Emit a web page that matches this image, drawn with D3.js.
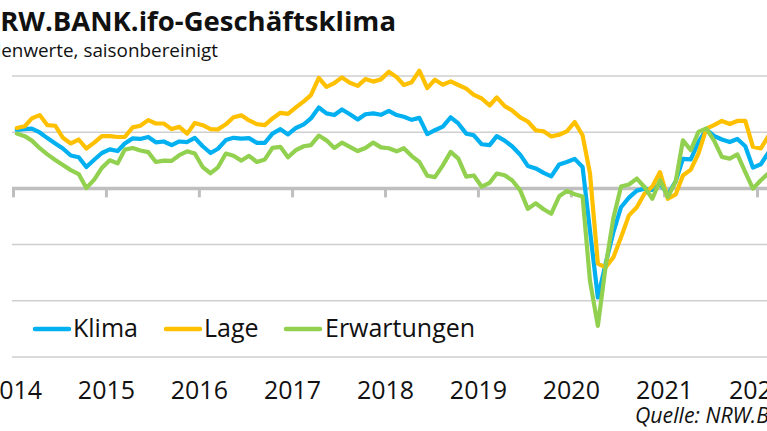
<!DOCTYPE html>
<html><head><meta charset="utf-8">
<script src="https://cdn.jsdelivr.net/npm/d3@7"></script>
<style>
html,body{margin:0;padding:0;background:#fff;overflow:hidden}
svg{display:block;font-family:"Open Sans","Noto Sans",sans-serif}
</style></head><body>
<svg id="chart" width="767" height="431"></svg>
<script>
const title = "NRW.BANK.ifo-Geschäftsklima";
const subtitle = "Saldenwerte, saisonbereinigt";
const source = "Quelle: NRW.BANK, ifo Institut";
const firstYear = 2014;
const yearTicks = [2014, 2015, 2016, 2017, 2018, 2019, 2020, 2021, 2022];
const gridValues = [-60, -40, -20, 20, 40];
const seriesNames = ["Klima", "Lage", "Erwartungen"];
const seriesColors = ["#00b0f0", "#ffc000", "#92d050"];

const klima = [20.8,21.1,21.3,19.9,17.9,16.0,14.2,11.7,11.1,7.6,10.2,12.6,
13.9,13.3,16.0,17.8,17.6,18.3,16.4,16.7,15.4,16.7,16.5,18.0,
15.0,12.6,14.1,17.2,18.0,17.7,17.9,16.2,16.2,19.5,21.1,19.2,
21.5,22.8,24.9,28.8,26.7,26.1,28.1,26.4,24.5,26.4,26.7,26.2,
27.6,26.1,25.5,24.4,25.1,19.3,20.7,22.0,25.3,23.1,19.5,18.9,
15.7,15.4,18.6,17.0,14.9,12.0,8.0,7.1,5.5,4.3,8.5,9.4,
10.5,7.6,-15.0,-38.8,-26.9,-15.6,-6.7,-3.3,-0.8,-0.1,-0.5,1.7,
-2.3,2.6,10.5,10.3,16.5,21.0,18.7,17.4,16.5,17.6,15.0,7.4,
8.6,12.9];

const lage = [21.5,22.1,24.9,26.1,22.5,22.3,18.0,16.0,17.4,14.2,16.3,18.6,
18.6,18.3,18.3,21.7,22.3,24.3,23.1,23.1,21.1,21.9,19.5,23.3,
22.5,21.1,21.0,22.8,25.3,26.0,24.2,22.9,22.5,24.9,26.9,26.5,
28.8,31.0,33.2,39.3,36.1,37.5,39.5,37.6,36.5,38.9,38.0,38.8,
41.5,39.6,36.8,37.8,41.9,35.7,38.7,36.9,38.1,36.8,35.5,33.3,
32.0,29.5,32.4,29.3,27.7,25.3,23.8,20.7,20.3,18.5,19.1,20.3,
23.6,18.9,5.4,-26.8,-28.1,-24.5,-17.4,-9.6,-6.7,-1.9,0.7,5.8,
-3.7,-2.1,4.6,6.7,12.4,21.3,22.5,24.0,22.9,24.0,24.0,14.8,
14.2,18.8];

const erwartungen = [19.5,18.6,17.0,14.3,12.1,10.1,8.3,6.5,5.1,0.1,3.1,7.3,
10.0,8.9,13.8,14.4,13.5,12.9,9.4,9.9,9.8,11.8,13.2,12.4,
7.6,5.4,7.5,12.4,11.6,9.9,11.6,9.4,10.3,14.4,14.8,11.1,
13.6,15.0,15.4,18.8,17.1,14.4,16.3,14.8,13.3,14.4,16.3,14.6,
14.3,13.2,14.3,11.5,9.4,4.5,4.0,8.2,13.0,10.6,4.2,4.6,
0.6,2.0,5.3,4.7,2.8,-0.7,-7.3,-5.3,-7.4,-9.0,-2.8,-0.9,
-2.1,-2.9,-32.9,-48.9,-28.1,-10.5,0.7,1.4,3.5,0.5,-3.7,2.9,
-3.1,2.6,17.1,13.6,20.1,21.3,17.1,11.2,10.6,12.1,5.8,-0.1,
2.9,5.5];

const seriesValues = [klima, lage, erwartungen];

const svg = d3.select("#chart");
const W = 767, H = 431;

const x = d3.scaleTime()
  .domain([new Date(2014, 0, 1), new Date(2022, 0, 1)])
  .range([13, 757]);
const y = d3.scaleLinear().domain([-60, 40]).range([357, 76]);

const monthDate = i => new Date(firstYear + Math.floor(i / 12), i % 12, 16);

// gridlines
svg.append("g").selectAll("line").data(gridValues).join("line")
  .attr("x1", 12).attr("x2", W + 5)
  .attr("y1", d => y(d)).attr("y2", d => y(d))
  .attr("stroke", "#cfcfcf").attr("stroke-width", 1.5);

// zero axis with ticks
const zeroAxis = d3.axisBottom(x)
  .tickValues(yearTicks.map(yr => new Date(yr, 0, 1)))
  .tickSize(9).tickSizeOuter(0).tickFormat("");
const gz = svg.append("g").attr("transform", `translate(0,${y(0)})`).call(zeroAxis);
gz.select(".domain").remove();
gz.selectAll(".tick line").attr("stroke", "#bfbfbf").attr("stroke-width", 3);
svg.append("line").attr("x1", 12).attr("x2", W + 5)
  .attr("y1", y(0)).attr("y2", y(0))
  .attr("stroke", "#bfbfbf").attr("stroke-width", 3.5);

// year labels
const labelAxis = d3.axisBottom(x)
  .tickValues(yearTicks.map(yr => new Date(yr, 0, 1)))
  .tickSize(0).tickPadding(6).tickFormat(d3.timeFormat("%Y"));
const gl = svg.append("g").attr("transform", "translate(0,375)").call(labelAxis);
gl.select(".domain").remove();
gl.selectAll("text").attr("font-size", 25).attr("fill", "#111")
  .attr("font-family", '"Open Sans","Noto Sans",sans-serif');

// lines
const line = d3.line()
  .x((d, i) => x(monthDate(i)))
  .y(d => y(d));
seriesValues.forEach((vals, k) => {
  svg.append("path").datum(vals)
    .attr("d", line)
    .attr("fill", "none")
    .attr("stroke", seriesColors[k])
    .attr("stroke-width", 4.2)
    .attr("stroke-linejoin", "round")
    .attr("stroke-linecap", "round");
});

// legend
const legendPos = [[35, 73], [166, 204], [286, 325]];
seriesNames.forEach((name, k) => {
  const [lx, tx] = legendPos[k];
  svg.append("line").attr("x1", lx).attr("x2", lx + 34)
    .attr("y1", 329).attr("y2", 329)
    .attr("stroke", seriesColors[k]).attr("stroke-width", 4.5)
    .attr("stroke-linecap", "round");
  svg.append("text").attr("x", tx).attr("y", 337)
    .attr("font-size", 25).attr("fill", "#111").text(name);
});

// helper: fit font size so a visible part of the text spans a given width
function fitSize(str, baseSize, weight, style, targetWidth) {
  const t = svg.append("text").attr("font-size", baseSize)
    .attr("font-weight", weight).attr("font-style", style).text(str);
  const w = t.node().getComputedTextLength();
  t.remove();
  return baseSize * targetWidth / w;
}

// title (left part cut off at the window edge, as in the reference)
const titleSize = fitSize(title.slice(1), 25, 700, "normal", 396);
svg.append("text").attr("x", 396).attr("y", 31).attr("text-anchor", "end")
  .attr("font-size", titleSize).attr("font-weight", 700).attr("fill", "#111").text(title);

const subSize = fitSize(subtitle.slice(4), 17, 400, "normal", 217);
svg.append("text").attr("x", 218).attr("y", 57).attr("text-anchor", "end")
  .attr("font-size", subSize).attr("fill", "#111").text(subtitle);

const srcSize = fitSize(source.slice(0, 13), 17, 400, "italic", 134);
svg.append("text").attr("x", 635).attr("y", 423)
  .attr("font-size", srcSize).attr("font-style", "italic").attr("fill", "#111").text(source);
</script>
</body></html>
